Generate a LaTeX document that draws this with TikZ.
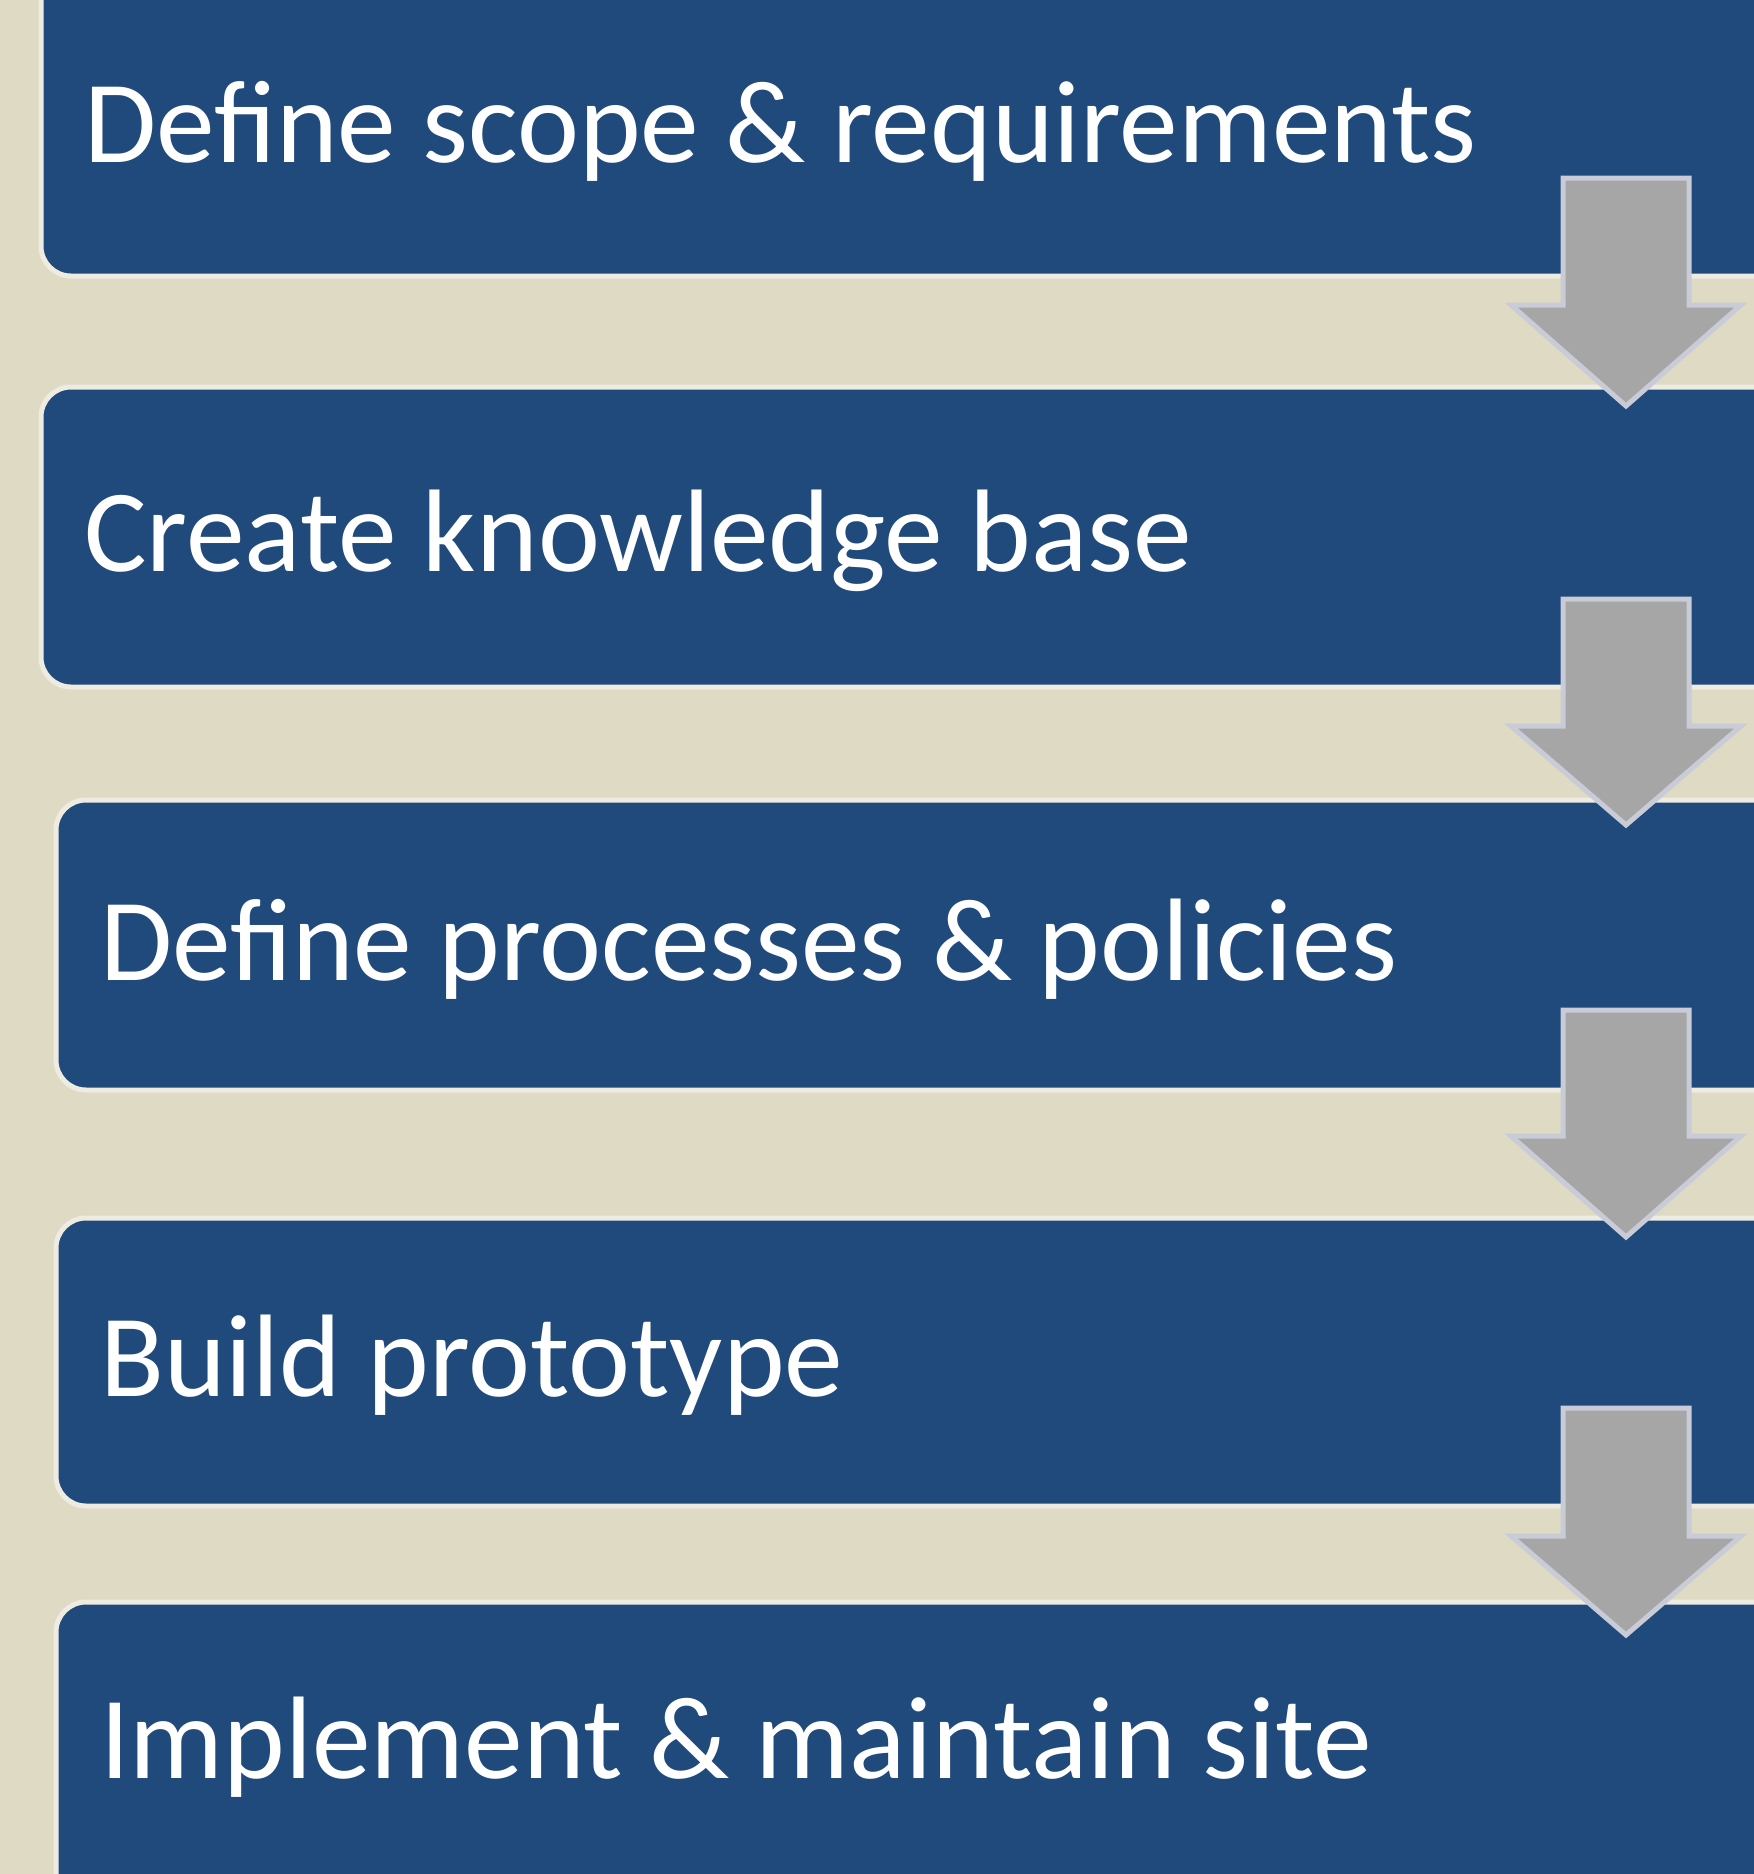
\documentclass[tikz,border=0pt]{standalone}
\usepackage{fontspec}
\setmainfont{Carlito}
\begin{document}
\begin{tikzpicture}[x=0.5pt,y=-0.5pt]
\definecolor{bg}{HTML}{DEDAC4}
\definecolor{boxblue}{HTML}{214A7C}
\definecolor{boxedge}{HTML}{EEEBE1}
\definecolor{arrowfill}{HTML}{A6A6A6}
\definecolor{arrowedge}{HTML}{C9CCD6}
\tikzset{
  stepbox/.style={draw=boxedge, fill=boxblue, line width=2.5pt, rounded corners=15pt, inner sep=0pt, outer sep=0pt, anchor=north west},
  steplabel/.style={anchor=base west, inner sep=0pt, text=white, font=\fontsize{58.7}{70}\selectfont},
  blockarrow/.style={draw=arrowedge, fill=arrowfill, line width=2.5pt, line join=miter},
}
\useasboundingbox (0,0) rectangle (1754,1874);
\clip (0,0) rectangle (1754,1874);
\fill[bg] (0,0) rectangle (1754,1874);
% boxes
\node[stepbox, minimum width=880pt, minimum height=153pt] (b1) at (41,-30) {};
\node[stepbox, minimum width=880pt, minimum height=150pt] (b2) at (41,387) {};
\node[stepbox, minimum width=872pt, minimum height=145pt] (b3) at (56,800) {};
\node[stepbox, minimum width=872pt, minimum height=144pt] (b4) at (56,1218) {};
\node[stepbox, minimum width=872pt, minimum height=150pt] (b5) at (56,1602) {};
% labels
\node[steplabel] (t1) at (84,162) {Define scope \& requirements};
\node[steplabel] (t2) at (84,571) {Create knowledge base};
\node[steplabel] (t3) at (100,980) {Define processes \& policies};
\node[steplabel] (t4) at (100,1396) {Build prototype};
\node[steplabel] (t5) at (100,1778) {Implement \& maintain site};
% arrows
\foreach \top/\base/\tip in {178/305/406, 599/726/825, 1010/1136/1237, 1408/1536/1635}{
  \draw[blockarrow] (1563,\top) -- (1689,\top) -- (1689,\base) -- (1741,\base) -- (1626,\tip) -- (1511,\base) -- (1563,\base) -- cycle;
}
\end{tikzpicture}
\end{document}
